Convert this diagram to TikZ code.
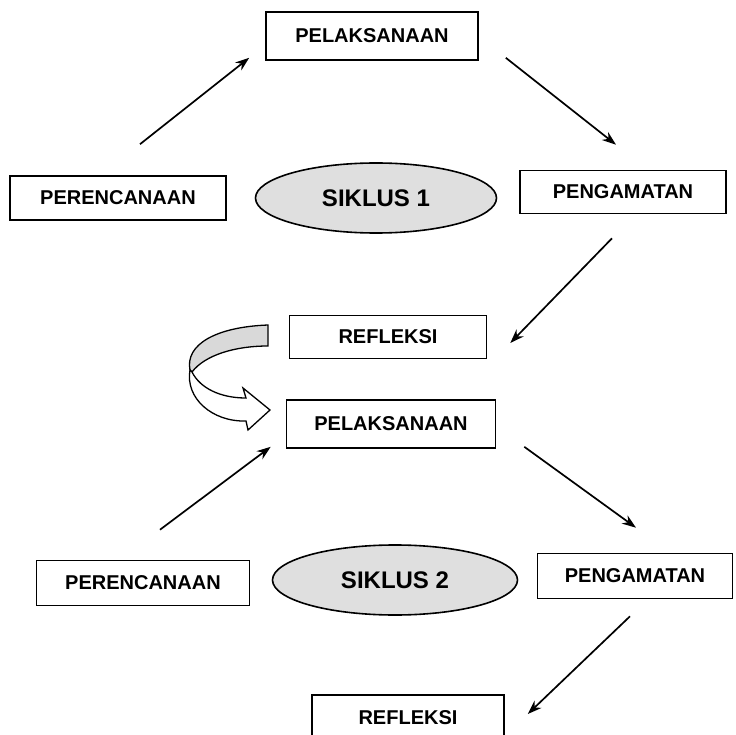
\documentclass[tikz,border=0pt]{standalone}
\usepackage{fontspec}
\setmainfont{Liberation Sans}
\usetikzlibrary{positioning,shapes.geometric,calc,arrows.meta}
\tikzset{>={Stealth[length=14pt,width=10pt]}}
\tikzset{
  box/.style={draw, line width=1.6pt, inner sep=0pt, font=\bfseries\fontsize{20}{22}\selectfont},
  siklus/.style={ellipse, draw, line width=1.6pt, fill=gray!25, inner sep=0pt, font=\bfseries\fontsize{24}{26}\selectfont},
  arr/.style={->, line width=1.7pt}
}
\begin{document}
\begin{tikzpicture}[x=1pt,y=-1pt]
\useasboundingbox (0,0) rectangle (736,735);
\clip (0,0) rectangle (736,735);
%%%% siklus 1
\node[box, minimum width=212, minimum height=48] (pel1) at (372,36) {PELAKSANAAN};
\node[box, minimum width=216, minimum height=44] (per1) at (118,198) {PERENCANAAN};
\node[siklus, minimum width=241, minimum height=70] (sik1) at (376,198) {SIKLUS 1};
\node[box, minimum width=206, minimum height=43] (pen1) at (623,192) {PENGAMATAN};
\node[box, minimum width=197, minimum height=43] (ref1) at (388,337) {REFLEKSI};
%%%%
\draw[arr] ([xshift=22pt,yshift=31pt]per1.north) -- ([xshift=-16pt,yshift=3pt]pel1.south west);
\draw[arr] ([xshift=27pt,yshift=3pt]pel1.south east) -- ([xshift=-7pt,yshift=25pt]pen1.north);
\draw[arr] ([xshift=-11pt,yshift=-24pt]pen1.south) -- ([xshift=23pt,yshift=-6pt]ref1.east);
%%%% siklus 2
\node[box, minimum width=209, minimum height=48] (pel2) at (391,424) {PELAKSANAAN};
\node[box, minimum width=213, minimum height=45] (per2) at (143,583) {PERENCANAAN};
\node[siklus, minimum width=245, minimum height=70] (sik2) at (395,580) {SIKLUS 2};
\node[box, minimum width=195, minimum height=45] (pen2) at (635,576) {PENGAMATAN};
\node[box, minimum width=192, minimum height=46] (ref2) at (408,718) {REFLEKSI};
%%%%
\draw[arr] ([xshift=17pt,yshift=30pt]per2.north) -- ([xshift=-15pt,yshift=2pt]pel2.south west);
\draw[arr] ([xshift=28pt,yshift=2pt]pel2.south east) -- ([xshift=1pt,yshift=25pt]pen2.north);
\draw[arr] ([xshift=-5pt,yshift=-17pt]pen2.south) -- ($(ref2.east)+(23,-4)$);
%%%% curved arrow from refleksi to pelaksanaan
\draw[line width=1.3pt, fill=gray!30] (268,325) .. controls (215,327) and (185,345) .. (190,370)
  -- (192,372) .. controls (205,355) and (235,346) .. (268,346) -- cycle;
\draw[line width=1.3pt, fill=white] (190,370) .. controls (185,398) and (212,422) .. (246,421)
  -- (248,430) -- (270,410) -- (243,388) -- (246,398) .. controls (220,398) and (200,388) .. (192,372) -- cycle;
\end{tikzpicture}
\end{document}
